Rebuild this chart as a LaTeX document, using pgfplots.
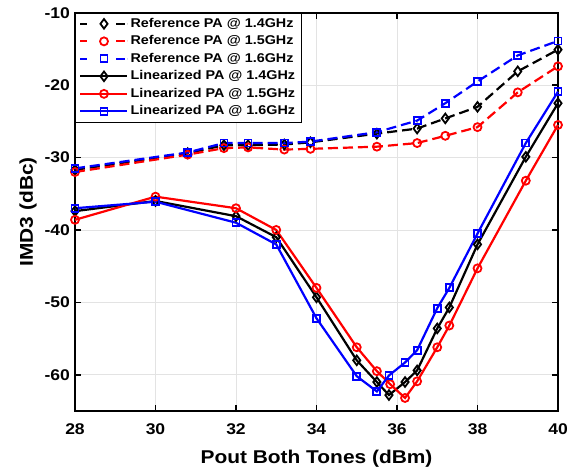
\documentclass[border=0pt]{standalone}
\usepackage{fontspec}
\setmainfont{Liberation Sans}[FakeStretch=1.13]
\usepackage{pgfplots}
\pgfplotsset{compat=1.18}
\begin{document}
\begin{tikzpicture}
\path[use as bounding box] (-75bp,-59bp) rectangle (505bp,411bp);
\begin{axis}[
  scale only axis, width=483bp, height=398.3bp,
  at={(0,0)}, anchor=south west,
  xmin=28, xmax=40, ymin=-65, ymax=-10,
  xtick={28,30,...,40}, ytick={-60,-50,...,-10},
  /pgf/number format/assume math mode=true,
  ticklabel style={font=\fontsize{15.5bp}{18bp}\selectfont\bfseries},
  xticklabel shift=9bp, yticklabel shift=1.5bp,
  xlabel={Pout Both Tones (dBm)}, ylabel={IMD3 (dBc)},
  label style={font=\fontsize{18.5bp}{22bp}\selectfont\bfseries},
  xlabel style={at={(axis description cs:0.5,-0.1306)}, anchor=base},
  ylabel style={at={(axis description cs:-0.087,0.5)}, anchor=base},
  grid=major, major grid style={gray!22, line width=0.9bp},
  axis line style={line width=2bp, black},
  major tick length=6bp, tick style={line width=1.6bp, black},
  tick align=inside,
  clip=false,
  every axis plot/.append style={line width=2.2bp},
  mark options={solid, line width=1.8bp},
  legend image code/.code={\draw[mark repeat=2,mark phase=2,#1] plot coordinates {(0bp,0bp) (23.5bp,0bp) (47bp,0bp)};},
  legend style={at={(0,1)}, anchor=north west, draw=black, line width=0.8bp,
    font=\fontsize{12.7bp}{14bp}\selectfont\bfseries,
    nodes={text height=9.5bp, text depth=3bp, inner ysep=2.5bp, inner xsep=2bp},
    row sep=0pt, inner xsep=4bp, inner ysep=2bp},
  legend cell align=left,
  refdash/.style={dash pattern=on 10bp off 5bp,
    legend image post style={dash pattern=on 7bp off 29bp on 9bp off 2bp}},
]
% Reference PA (dashed)
\addplot[black, refdash, mark=diamond, mark size=4.8bp] coordinates {
 (28,-31.7) (30.8,-29.4) (31.7,-28.3) (32.3,-28.3) (33.2,-28.2) (33.85,-27.9)
 (35.5,-26.7) (36.5,-26.0) (37.2,-24.6) (38,-23.0) (39,-18.1) (40,-15.1)};
\addlegendentry{Reference PA @ 1.4GHz}
\addplot[red, refdash, mark=o, mark size=4bp] coordinates {
 (28,-32.0) (30.8,-29.6) (31.7,-28.7) (32.3,-28.6) (33.2,-28.9) (33.85,-28.8)
 (35.5,-28.5) (36.5,-28.0) (37.2,-27.0) (38,-25.8) (39,-21.0) (40,-17.4)};
\addlegendentry{Reference PA @ 1.5GHz}
\addplot[blue, refdash, mark=square, mark size=3.5bp] coordinates {
 (28,-31.5) (30.8,-29.3) (31.7,-28.0) (32.3,-28.0) (33.2,-28.0) (33.85,-27.8)
 (35.5,-26.5) (36.5,-24.9) (37.2,-22.5) (38,-19.5) (39,-15.9) (40,-13.9)};
\addlegendentry{Reference PA @ 1.6GHz}
% Linearized PA (solid)
\addplot[black, solid, mark=diamond, mark size=4.8bp] coordinates {
 (28,-37.4) (30,-36.0) (32,-38.1) (33,-41.0) (34,-49.3) (35,-58.0) (35.5,-61.0)
 (35.8,-62.8) (36.2,-61.0) (36.5,-59.4) (37,-53.6) (37.3,-50.7) (38,-42.0) (39.2,-29.9) (40,-22.5)};
\addlegendentry{Linearized PA @ 1.4GHz}
\addplot[red, solid, mark=o, mark size=4bp] coordinates {
 (28,-38.6) (30,-35.4) (32,-37.0) (33,-40.0) (34,-48.0) (35,-56.2) (35.5,-59.5)
 (35.83,-61.3) (36.2,-63.2) (36.5,-60.9) (37,-56.2) (37.3,-53.2) (38,-45.3) (39.2,-33.2) (40,-25.5)};
\addlegendentry{Linearized PA @ 1.5GHz}
\addplot[blue, solid, mark=square, mark size=3.5bp] coordinates {
 (28,-37.0) (30,-36.1) (32,-39.0) (33,-42.0) (34,-52.2) (35,-60.2) (35.5,-62.3)
 (35.8,-60.1) (36.2,-58.3) (36.5,-56.6) (37,-50.8) (37.3,-48.0) (38,-40.5) (39.2,-28.0) (40,-20.9)};
\addlegendentry{Linearized PA @ 1.6GHz}
\end{axis}
\end{tikzpicture}
\end{document}
